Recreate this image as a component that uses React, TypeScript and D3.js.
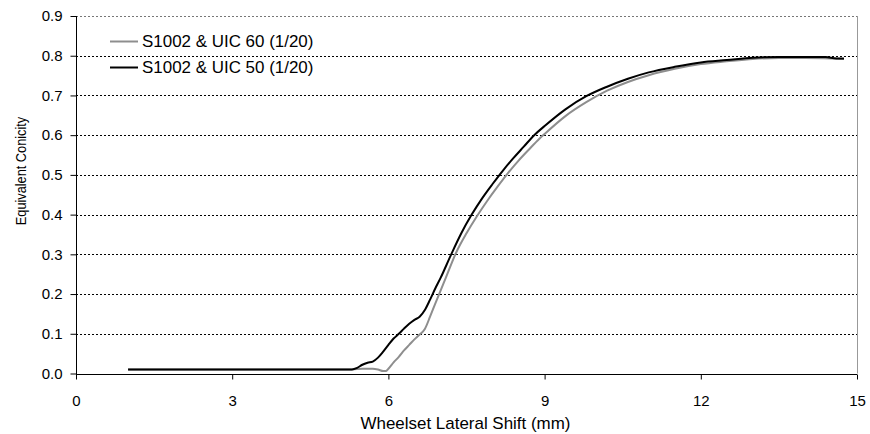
import React, { useEffect, useRef } from 'react';
import * as d3 from 'd3';

// S1002 & UIC 50 (1/20) - black
const shiftUic50 = [1.0, 5.3, 5.4, 5.5, 5.6, 5.7, 5.8, 5.9, 6.0, 6.1, 6.2, 6.3, 6.4, 6.5, 6.6, 6.7, 6.8, 6.9, 7.0, 7.2, 7.4, 7.6, 7.8, 8.0, 8.2, 8.4, 8.6, 8.8, 9.0, 9.4, 9.8, 10.2, 10.6, 11.0, 11.5, 12.0, 12.5, 13.0, 13.5, 14.0, 14.4, 14.6, 14.75];
const conUic50 = [0.010, 0.010, 0.014, 0.022, 0.027, 0.030, 0.040, 0.055, 0.072, 0.088, 0.100, 0.113, 0.125, 0.135, 0.143, 0.160, 0.186, 0.214, 0.240, 0.298, 0.353, 0.400, 0.441, 0.477, 0.511, 0.542, 0.571, 0.600, 0.623, 0.665, 0.698, 0.722, 0.742, 0.758, 0.772, 0.783, 0.789, 0.795, 0.797, 0.797, 0.797, 0.793, 0.793];

// S1002 & UIC 60 (1/20) - grey
const shiftUic60 = [1.0, 5.3, 5.5, 5.7, 5.8, 5.9, 5.95, 6.0, 6.1, 6.2, 6.3, 6.4, 6.5, 6.6, 6.7, 6.8, 6.9, 7.0, 7.1, 7.3, 7.5, 7.7, 7.9, 8.1, 8.3, 8.5, 8.7, 8.9, 9.0, 9.4, 9.8, 10.2, 10.6, 11.0, 11.5, 12.0, 12.5, 13.0, 13.5, 14.0, 14.5, 14.75];
const conUic60 = [0.010, 0.010, 0.012, 0.012, 0.010, 0.006, 0.006, 0.012, 0.028, 0.042, 0.058, 0.072, 0.086, 0.098, 0.112, 0.143, 0.176, 0.208, 0.240, 0.304, 0.353, 0.396, 0.435, 0.471, 0.505, 0.536, 0.564, 0.591, 0.603, 0.648, 0.683, 0.712, 0.734, 0.751, 0.767, 0.779, 0.786, 0.792, 0.794, 0.794, 0.793, 0.792];

const xTicks = [0, 3, 6, 9, 12, 15];
const yTicks = [0, 0.1, 0.2, 0.3, 0.4, 0.5, 0.6, 0.7, 0.8, 0.9];
const seriesNames = ['S1002 & UIC 60 (1/20)', 'S1002 & UIC 50 (1/20)'];
const seriesColors = ['#8e8e8e', '#000000'];

const App = () => {
  const svgRef = useRef<SVGSVGElement>(null);

  useEffect(() => {
    const width = 870;
    const height = 434;
    const left = 76;
    const right = 857;
    const top = 16;
    const bottom = 373.5;
    const font = '"Liberation Sans", Arial, sans-serif';

    const svg = d3.select(svgRef.current);
    svg.selectAll('*').remove();
    svg.attr('width', width).attr('height', height);

    const x = d3.scaleLinear().domain([0, 15]).range([left, right]);
    const y = d3.scaleLinear().domain([0, 0.9]).range([bottom, top]);

    // gridlines
    svg
      .append('g')
      .selectAll('line')
      .data(yTicks.filter(d => d > 0))
      .enter()
      .append('line')
      .attr('x1', left)
      .attr('x2', right)
      .attr('y1', d => Math.round(y(d)) + 0.5)
      .attr('y2', d => Math.round(y(d)) + 0.5)
      .attr('stroke', d => (d === 0.9 ? '#777' : '#000'))
      .attr('stroke-dasharray', '2,2')
      .attr('stroke-width', 1);

    // right border
    svg
      .append('line')
      .attr('x1', right + 0.5)
      .attr('x2', right + 0.5)
      .attr('y1', Math.round(y(0.9)))
      .attr('y2', bottom)
      .attr('stroke', '#999');

    // axes
    const yAxis = svg
      .append('g')
      .attr('transform', `translate(${left + 0.5},0)`)
      .call(
        d3
          .axisLeft(y)
          .tickValues(yTicks)
          .tickSize(6)
          .tickPadding(8)
          .tickFormat(d3.format('.1f'))
      );
    const xAxis = svg
      .append('g')
      .attr('transform', `translate(0,${Math.round(bottom) + 0.5})`)
      .call(d3.axisBottom(x).tickValues(xTicks).tickSize(5).tickPadding(16).tickFormat(d3.format('d')));

    [yAxis, xAxis].forEach(a => {
      a.select('.domain').attr('stroke', '#000');
      a.selectAll('.tick line').attr('stroke', '#000');
      a.selectAll('.tick text')
        .attr('font-family', font)
        .attr('font-size', 15)
        .attr('fill', '#000');
    });
    yAxis.select('.domain').attr('d', `M0,${Math.round(y(0.9))}V${Math.round(bottom)}`);
    xAxis.select('.domain').attr('d', `M${left},0H${right}`);

    // lines
    const line = d3
      .line<[number, number]>()
      .curve(d3.curveMonotoneX)
      .x(d => x(d[0]))
      .y(d => y(d[1]));

    const series = [
      shiftUic60.map((s, i) => [s, conUic60[i]] as [number, number]),
      shiftUic50.map((s, i) => [s, conUic50[i]] as [number, number]),
    ];

    series.forEach((pts, i) => {
      svg
        .append('path')
        .attr('d', line(pts))
        .attr('fill', 'none')
        .attr('stroke', seriesColors[i])
        .attr('stroke-width', 2)
        .attr('stroke-linejoin', 'round');
    });

    // legend
    const legend = svg.append('g');
    seriesNames.forEach((name, i) => {
      const ly = 41.5 + i * 26;
      legend
        .append('line')
        .attr('x1', 110)
        .attr('x2', 138)
        .attr('y1', ly)
        .attr('y2', ly)
        .attr('stroke', seriesColors[i])
        .attr('stroke-width', 2);
      legend
        .append('text')
        .attr('transform', `translate(142,${ly}) scale(1.06,1)`)
        .attr('dy', '0.36em')
        .attr('font-family', font)
        .attr('font-size', 16)
        .text(name);
    });

    // axis titles
    svg
      .append('text')
      .attr('transform', `translate(${(left + right) / 2 - 1},429) scale(1.06,1)`)
      .attr('text-anchor', 'middle')
      .attr('font-family', font)
      .attr('font-size', 16)
      .text('Wheelset Lateral Shift (mm)');

    svg
      .append('text')
      .attr('transform', `translate(25.5,171) rotate(-90) scale(0.85,1)`)
      .attr('text-anchor', 'middle')
      .attr('font-family', font)
      .attr('font-size', 15)
      .text('Equivalent Conicity');
  }, []);

  return (
    <div style={{ position: 'absolute', left: 0, top: 0 }}>
      <svg ref={svgRef} style={{ display: 'block' }}></svg>
    </div>
  );
};

export default App;
